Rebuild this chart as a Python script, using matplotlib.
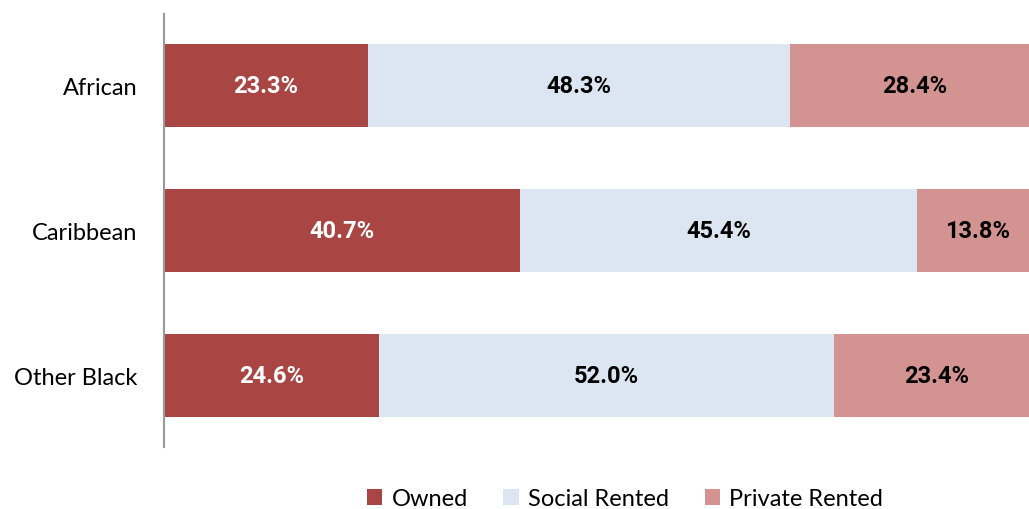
import matplotlib
matplotlib.use("Agg")
import matplotlib.pyplot as plt
from matplotlib.patches import Patch

categories = ["African", "Caribbean", "Other Black"]
series_names = ["Owned", "Social Rented", "Private Rented"]
owned = [23.3, 40.7, 24.6]
social = [48.3, 45.4, 52.0]
private = [28.4, 13.8, 23.4]
colors = ["#A94644", "#DCE6F2", "#D39391"]
label_colors = ["white", "black", "black"]

plt.rcParams['font.family'] = ['Lato', 'DejaVu Sans']

W, H = 1029, 510
fig = plt.figure(figsize=(W/100, H/100), dpi=100)
ax = fig.add_axes([164/W, 1-448/H, 875/W, (448-15)/H])

ypos = list(range(len(categories)))
left = [0]*len(categories)
for vals, col, lc in zip([owned, social, private], colors, label_colors):
    ax.barh(ypos, vals, left=left, height=0.572, color=col, edgecolor='none')
    for y, v, l in zip(ypos, vals, left):
        ax.text(l + v/2, y, f"{v:.1f}%", ha='center', va='center',
                color=lc, fontsize=17, fontweight='bold',
                family=['Roboto', 'DejaVu Sans'])
    left = [a+b for a, b in zip(left, vals)]

ax.set_xlim(0, 100)
ax.set_ylim(2.493, -0.493)
ax.set_yticks(ypos)
ax.set_yticklabels(categories, fontsize=17)
ax.tick_params(axis='y', length=0, pad=19)
ax.set_xticks([])
for s in ['top', 'right', 'bottom']:
    ax.spines[s].set_visible(False)
ax.spines['left'].set_color('#999999')
ax.spines['left'].set_linewidth(1.5)

handles = [Patch(facecolor=c, edgecolor='none') for c in colors]
fig.legend(handles, series_names, loc='center', bbox_to_anchor=(625/W, 1-500/H),
           ncol=3, frameon=False, fontsize=17, handlelength=0.65, handleheight=0.65,
           columnspacing=1.5, handletextpad=0.4)

fig.savefig("out.png", dpi=100)
